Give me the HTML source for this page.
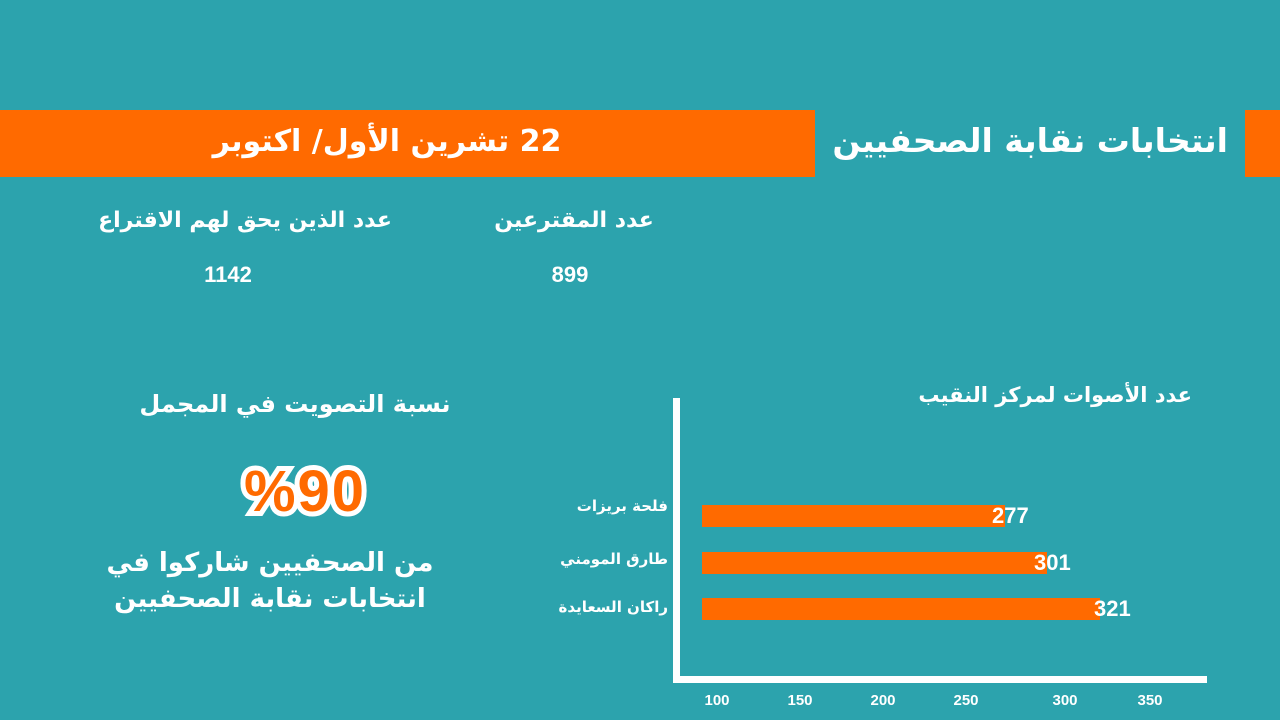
<!DOCTYPE html>
<html><head><meta charset="utf-8"><style>
body{margin:0;width:1280px;height:720px;background:#2ca3ad;position:relative;overflow:hidden;font-family:"DejaVu Sans","Liberation Sans",sans-serif;color:#fff;font-weight:bold}
.a{position:absolute;white-space:nowrap}
.r{direction:rtl}
.bar{position:absolute;background:#ff6a00;height:22px;left:702px}
.v{position:absolute;font-size:22px;color:#fff;font-family:"Liberation Sans",sans-serif}
.t{position:absolute;top:692px;font-size:15px;font-family:"Liberation Sans",sans-serif;transform:translateX(-50%)}
.lab{position:absolute;right:612px;font-size:15px;direction:rtl}
</style></head><body>
<div class="a" style="left:0;top:110px;width:815px;height:67px;background:#ff6a00"></div>
<div class="a" style="left:1245px;top:110px;width:35px;height:67px;background:#ff6a00"></div>
<div class="a r" style="right:52px;top:121px;font-size:33px">انتخابات نقابة الصحفيين</div>
<div class="a r" style="left:387px;top:124px;font-size:30px;transform:translateX(-50%)">22 تشرين الأول/ اكتوبر</div>
<div class="a r" style="left:245px;top:208px;font-size:22px;transform:translateX(-50%)">عدد الذين يحق لهم الاقتراع</div>
<div class="a" style="left:228px;top:262px;font-size:22px;transform:translateX(-50%);font-family:'Liberation Sans',sans-serif">1142</div>
<div class="a r" style="left:574px;top:208px;font-size:22px;transform:translateX(-50%)">عدد المقترعين</div>
<div class="a" style="left:570px;top:262px;font-size:22px;transform:translateX(-50%);font-family:'Liberation Sans',sans-serif">899</div>
<div class="a r" style="left:295px;top:390px;font-size:24px;transform:translateX(-50%)">نسبة التصويت في المجمل</div>
<div class="a" style="left:305px;top:458px;font-size:58px;letter-spacing:2px;transform:translateX(-50%);color:#ff6a00;-webkit-text-stroke:10px #fff;paint-order:stroke fill;font-family:'Liberation Sans',sans-serif">%90</div>
<div class="a r" style="left:270px;top:545px;font-size:26px;transform:translateX(-50%);text-align:center;line-height:36px">من الصحفيين شاركوا في<br>انتخابات نقابة الصحفيين</div>
<div class="a r" style="right:88px;top:383px;font-size:21px">عدد الأصوات لمركز النقيب</div>
<div class="a" style="left:673px;top:398px;width:7px;height:285px;background:#fff"></div>
<div class="a" style="left:673px;top:676px;width:534px;height:7px;background:#fff"></div>
<div class="bar" style="top:505px;width:303px"></div>
<div class="bar" style="top:552px;width:345px"></div>
<div class="bar" style="top:598px;width:398px"></div>
<div class="v" style="left:992px;top:503px">277</div>
<div class="v" style="left:1034px;top:550px">301</div>
<div class="v" style="left:1094px;top:596px">321</div>
<div class="lab" style="top:497px">فلحة بريزات</div>
<div class="lab" style="top:550px">طارق المومني</div>
<div class="lab" style="top:598px">راكان السعايدة</div>
<div class="t" style="left:717px">100</div>
<div class="t" style="left:800px">150</div>
<div class="t" style="left:883px">200</div>
<div class="t" style="left:966px">250</div>
<div class="t" style="left:1065px">300</div>
<div class="t" style="left:1150px">350</div>
</body></html>
